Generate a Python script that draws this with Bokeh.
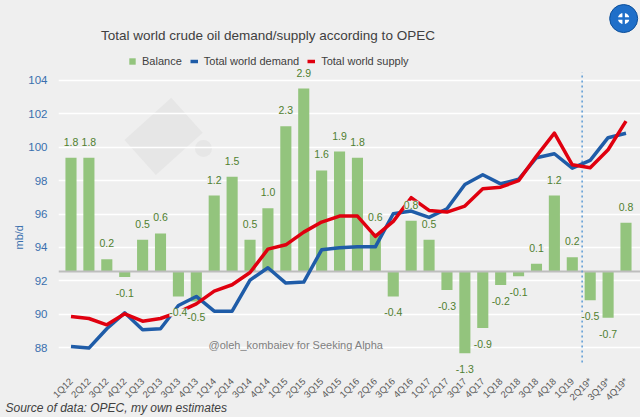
import math
from bokeh.plotting import figure
from bokeh.models import (Range1d, FixedTicker, ColumnDataSource,
                          LabelSet, Label, Legend, LegendItem, Title)
from bokeh.core.properties import value
from bokeh.embed import file_html
from bokeh.resources import INLINE

quarters = ["1Q12", "2Q12", "3Q12", "4Q12", "1Q13", "2Q13", "3Q13", "4Q13",
            "1Q14", "2Q14", "3Q14", "4Q14", "1Q15", "2Q15", "3Q15", "4Q15",
            "1Q16", "2Q16", "3Q16", "4Q16", "1Q17", "2Q17", "3Q17", "4Q17",
            "1Q18", "2Q18", "3Q18", "4Q18", "1Q19", "2Q19*", "3Q19*", "4Q19*"]
demand = [88.08, 87.98, 89.14, 90.09, 89.08, 89.14, 90.53, 91.07,
          90.19, 90.19, 92.05, 92.79, 91.87, 91.93, 93.86, 93.98,
          94.04, 94.04, 96.02, 96.18, 95.80, 96.32, 97.77, 98.35,
          97.81, 98.08, 99.37, 99.61, 98.75, 99.21, 100.57, 100.84]
supply = [89.87, 89.75, 89.37, 90.03, 89.59, 89.75, 90.13, 90.63,
          91.39, 91.77, 92.50, 93.90, 94.16, 94.92, 95.52, 95.88,
          95.88, 94.66, 95.56, 96.98, 96.22, 96.12, 96.48, 97.51,
          97.61, 98.00, 99.47, 100.84, 98.95, 98.77, 99.85, 101.56]
balance = [1.8, 1.8, 0.19, -0.09, 0.5, 0.6, -0.4, -0.48,
           1.2, 1.5, 0.5, 1.0, 2.3, 2.9, 1.6, 1.9,
           1.8, 0.6, -0.4, 0.8, 0.5, -0.3, -1.3, -0.9,
           -0.22, -0.08, 0.12, 1.2, 0.22, -0.46, -0.74, 0.77]
left_ticks = [88, 90, 92, 94, 96, 98, 100, 102, 104]
forecast_start = "2Q19*"

FONT = "Liberation Sans"
BG = "#efefef"
BLUE_TXT = "#3a6fae"

idx = list(range(len(quarters)))

p = figure(width=640, height=417, output_backend="svg", toolbar_location=None,
           x_range=Range1d(-0.698, 31.81), y_range=Range1d(86.28, 108.78),
           min_border_left=58, min_border_right=0, min_border_top=0,
           min_border_bottom=41, background_fill_color=BG, border_fill_color=BG,
           outline_line_color=None)
p.extra_y_ranges = {"bal": Range1d(-1.671, 4.297)}

# axes
p.yaxis.ticker = FixedTicker(ticks=left_ticks)
p.yaxis.axis_line_color = None
p.yaxis.major_tick_line_color = None
p.yaxis.minor_tick_line_color = None
p.yaxis.major_label_text_color = BLUE_TXT
p.yaxis.major_label_text_font = FONT
p.yaxis.major_label_text_font_size = "11.5px"
p.yaxis.major_label_standoff = 5

p.xaxis.ticker = FixedTicker(ticks=idx)
p.xaxis.major_label_overrides = {i: q for i, q in zip(idx, quarters)}
p.xaxis.major_label_orientation = math.pi / 4
p.xaxis.axis_line_color = None
p.xaxis.major_tick_line_color = None
p.xaxis.minor_tick_line_color = None
p.xaxis.major_label_text_color = "#595959"
p.xaxis.major_label_text_font = FONT
p.xaxis.major_label_text_font_size = "9.5px"
p.xaxis.major_label_standoff = -3

p.xgrid.grid_line_color = None
p.ygrid.ticker = FixedTicker(ticks=left_ticks)
p.ygrid.grid_line_color = "white"
p.ygrid.grid_line_width = 1.5

# faint barrel watermark (behind grid)
p.rect(x=[5.17], y=[100.65], width=63, height=47, width_units="screen",
       height_units="screen", angle=math.radians(42), fill_color="#e6e6e6",
       line_color=None, level="image")
p.scatter(x=[7.40], y=[99.93], size=17, fill_color="#e6e6e6", line_color=None,
          level="image")

src = ColumnDataSource(dict(
    x=idx, q=quarters, demand=demand, supply=supply, bal=balance,
    lbl=[f"{b:.1f}" for b in balance],
    yoff=[16 if b >= 0 else -16 for b in balance],
))

bars = p.vbar(x="x", top="bal", bottom=0, width=0.62, source=src,
              y_range_name="bal", fill_color="#93c47d", line_color=None)
p.hspan(y=[0], y_range_name="bal", line_color="#bdbdbd", line_width=2)

# forecast separator
sep_x = (quarters.index(forecast_start) - 1 + quarters.index(forecast_start)) / 2 + 0.05
p.segment(x0=[sep_x], y0=[87.12], x1=[sep_x], y1=[104.48],
          line_color="#5b9bd5", line_width=1.5, line_dash="2 3")

dl = p.line("x", "demand", source=src, line_color="#1f5ca8", line_width=3.5,
            line_join="round")
sl = p.line("x", "supply", source=src, line_color="#e0000f", line_width=3.5,
            line_join="round")

labels = LabelSet(x="x", y="bal", text="lbl", y_offset="yoff", source=src,
                  y_range_name="bal", text_align="center",
                  text_baseline="middle", text_color="#4f7f30",
                  text_font=value(FONT), text_font_size="10.5px",
                  background_fill_color=BG)
p.add_layout(labels)

legend = Legend(items=[LegendItem(label="Balance", renderers=[bars]),
                       LegendItem(label="Total world demand", renderers=[dl]),
                       LegendItem(label="Total world supply", renderers=[sl])],
                orientation="horizontal", location=(70, 309),
                background_fill_alpha=0, border_line_color=None,
                glyph_width=8, glyph_height=8, label_standoff=6, spacing=8,
                padding=0, margin=0, label_text_font=FONT,
                label_text_font_size="11px", label_text_color="#404040")
p.add_layout(legend)

p.add_layout(Label(x=11.0, y=106.69,
                   text="Total world crude oil demand/supply according to OPEC",
                   text_font=FONT, text_font_size="13.5px", text_align="center",
                   text_color="#404040", text_baseline="middle"))
p.add_layout(Label(x=7.68, y=88.14,
                   text="@oleh_kombaiev for Seeking Alpha",
                   text_font=FONT, text_font_size="11px",
                   text_color="#808080", text_baseline="middle"))

p.add_layout(Title(text="mb/d", align="left", offset=127, text_font=FONT,
                   text_font_size="11px", text_font_style="normal",
                   text_color=BLUE_TXT, standoff=2), "left")
p.add_layout(Title(text="Source of data: OPEC, my own estimates", align="left",
                   offset=-53, text_font=FONT, text_font_size="12px",
                   text_font_style="italic", text_color="#404040",
                   vertical_align="top", standoff=-18), "below")

# OPEC logo badge
p.scatter(x=[30.87], y=[107.7], size=28, fill_color="#1f6fc9",
          line_color="#0d4f9a", line_width=1)
p.scatter(x=[30.87], y=[107.7], size=14, marker="circle_cross",
          fill_color="white", line_color="#1f6fc9", line_width=2.5)

html = file_html(p, INLINE)
html = html.replace("</head>", "<style>body{background:#efefef;}</style></head>", 1)
open("out.html", "w").write(html)
